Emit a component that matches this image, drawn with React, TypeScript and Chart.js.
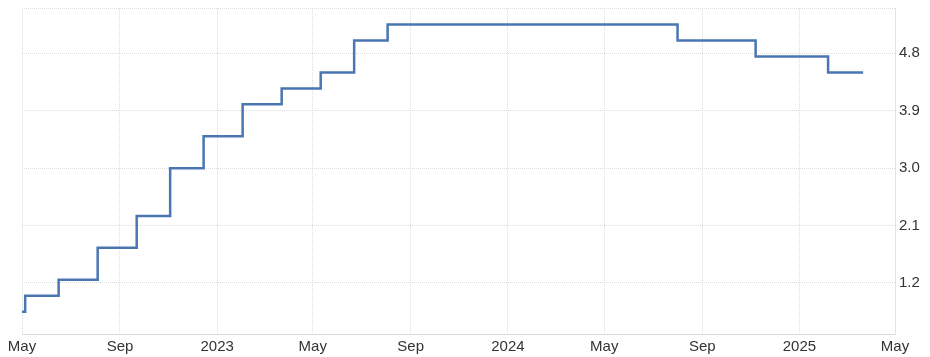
import React, { useEffect, useRef } from "react";
import { Chart, registerables } from "chart.js";

Chart.register(...registerables);

const rateDates = [
  "2022-05-01", "2022-05-05", "2022-06-16", "2022-08-04", "2022-09-22",
  "2022-11-03", "2022-12-15", "2023-02-02", "2023-03-23", "2023-05-11",
  "2023-06-22", "2023-08-03", "2024-08-01", "2024-11-07", "2025-02-06",
  "2025-03-22",
];
const rateValues = [
  0.75, 1.0, 1.25, 1.75, 2.25, 3.0, 3.5, 4.0, 4.25, 4.5, 5.0, 5.25, 5.0, 4.75,
  4.5, 4.5,
];

const xTickDates = [
  "2022-05-01", "2022-09-01", "2023-01-01", "2023-05-01", "2023-09-01",
  "2024-01-01", "2024-05-01", "2024-09-01", "2025-01-01", "2025-05-01",
];
const xTickLabels = ["May", "Sep", "2023", "May", "Sep", "2024", "May", "Sep", "2025", "May"];

const yTickValues = [1.2, 2.1, 3.0, 3.9, 4.8];
const yMin = 0.4;
const yMax = 5.51;

const toDay = (s: string) => {
  const [y, m, d] = s.split("-").map(Number);
  return Date.UTC(y, m - 1, d) / 86400000;
};

export default function App() {
  const ref = useRef<HTMLCanvasElement | null>(null);

  useEffect(() => {
    document.body.style.margin = "0";
    if (!ref.current) return;
    const xTicks = xTickDates.map(toDay);
    const xMin = xTicks[0];
    const xMax = xTicks[xTicks.length - 1];
    const labelMap = new Map<number, string>();
    xTicks.forEach((t, i) => labelMap.set(t, xTickLabels[i]));
    const font = { family: "'Liberation Sans', Arial, sans-serif", size: 15 };

    const chart = new Chart(ref.current, {
      type: "line",
      data: {
        datasets: [
          {
            data: rateDates.map((d, i) => ({ x: toDay(d), y: rateValues[i] })),
            borderColor: "#4a76b2",
            borderWidth: 2.5,
            pointRadius: 0,
            stepped: "before",
            fill: false,
          },
        ],
      },
      options: {
        animation: false,
        responsive: false,
        maintainAspectRatio: false,
        layout: { padding: { left: 22, top: 8, right: 0, bottom: 0 } },
        plugins: { legend: { display: false }, tooltip: { enabled: false } },
        scales: {
          x: {
            type: "linear",
            min: xMin,
            max: xMax,
            afterBuildTicks: (s: any) => {
              s.ticks = xTicks.map((v) => ({ value: v }));
            },
            afterFit: (s: any) => {
              s.height = 23;
              s.paddingLeft = 0;
              s.paddingRight = 0;
            },
            ticks: {
              autoSkip: false,
              maxRotation: 0,
              padding: 4,
              color: "#333333",
              font,
              callback: (v: any) => labelMap.get(Number(v)) ?? "",
            },
            grid: {
              drawTicks: false,
              color: "#dcdcdc",
              lineWidth: 1,
            },
            border: { display: true, color: "#d9d9d9", width: 1, dash: [1, 1] },
          },
          y: {
            type: "linear",
            position: "right",
            min: yMin,
            max: yMax,
            afterBuildTicks: (s: any) => {
              s.ticks = [yMin, ...yTickValues, yMax].map((v) => ({ value: v }));
            },
            afterFit: (s: any) => {
              s.width = 35;
              s.paddingTop = 0;
              s.paddingBottom = 0;
            },
            ticks: {
              padding: 4,
              color: "#333333",
              font,
              callback: (v: any) => {
                const n = Number(v);
                return yTickValues.some((t) => Math.abs(t - n) < 1e-6) ? n.toFixed(1) : "";
              },
            },
            grid: {
              drawTicks: false,
              color: "#dcdcdc",
              lineWidth: 1,
            },
            border: { display: true, color: "#e3e3e3", width: 1, dash: [1, 1] },
          },
        },
      },
    } as any);
    return () => chart.destroy();
  }, []);

  return (
    <div style={{ position: "absolute", left: 0, top: 0, width: 930, height: 357, background: "#fff" }}>
      <canvas ref={ref} width={930} height={357} style={{ display: "block" }} />
    </div>
  );
}
